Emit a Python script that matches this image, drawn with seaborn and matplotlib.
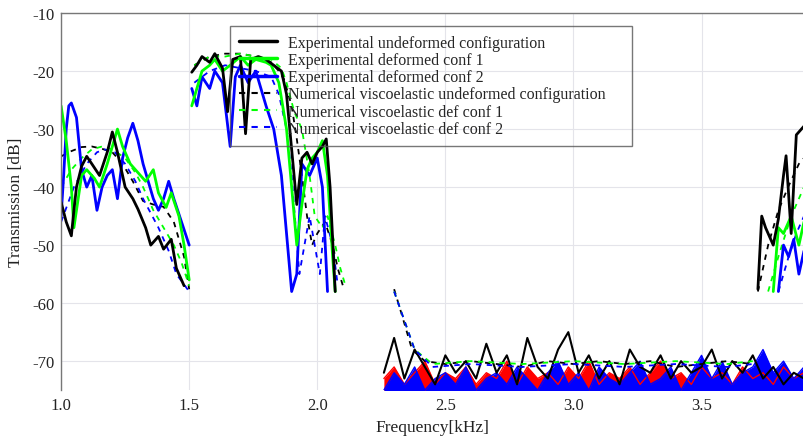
import numpy as np
import pandas as pd
import matplotlib
matplotlib.use("Agg")
import matplotlib.pyplot as plt
from matplotlib.lines import Line2D
import seaborn as sns

# ---------------- data (NaN = gap) ----------------
nan = np.nan

exp_undef_f = [1.00, 1.02, 1.04, 1.05, 1.06, 1.08, 1.10, 1.12, 1.15, 1.18, 1.20, 1.22, 1.25, 1.28,
               1.30, 1.33, 1.35, 1.38, 1.40, 1.43, 1.45, 1.48, 1.49,
               1.51, 1.53, 1.55, 1.58, 1.60, 1.63, 1.65, 1.67, 1.70, 1.72, 1.74, 1.77, 1.80, 1.83,
               1.86, 1.88, 1.90, 1.92, 1.94, 1.96, 1.98, 2.00, 2.02, 2.035, 2.05, 2.07, 2.08,
               3.72, 3.735, 3.75, 3.78, 3.80, 3.82, 3.83, 3.85, 3.87, 3.90]
exp_undef_v = [-42.6, -46.0, -48.4, -44.0, -40.0, -36.4, -34.7, -36.0, -38.0, -34.0, -30.5, -34.0, -40.0, -42.0,
               -43.8, -47.0, -50.0, -48.5, -50.7, -49.0, -54.0, -57.0, nan,
               -20.2, -19.0, -17.5, -18.5, -17.0, -19.5, -27.0, -18.0, -17.5, -30.8, -18.0, -17.5, -18.0, -19.0,
               -20.0, -24.0, -33.5, -43.0, -35.0, -34.0, -36.0, -34.0, -33.0, -31.7, -40.0, -58.0, nan,
               -57.6, -45.0, -47.0, -50.0, -45.5, -38.0, -34.6, -48.0, -31.0, -29.5]

exp_def1_f = [1.00, 1.02, 1.04, 1.05, 1.06, 1.08, 1.10, 1.13, 1.15, 1.18, 1.20, 1.22, 1.24, 1.27,
              1.30, 1.33, 1.36, 1.38, 1.41, 1.43, 1.46, 1.48, 1.50, 1.505,
              1.51, 1.53, 1.55, 1.58, 1.60, 1.63, 1.66, 1.70, 1.73, 1.76, 1.80, 1.82, 1.85, 1.88,
              1.90, 1.92, 1.94, 1.96, 1.98, 2.00, 2.02, 2.04, 2.06, 2.07, 2.08,
              3.78, 3.80, 3.82, 3.85, 3.88, 3.90]
exp_def1_v = [-26.0, -32.0, -40.0, -47.0, -44.0, -38.0, -37.0, -38.5, -40.0, -36.0, -33.0, -30.0, -33.0, -36.0,
              -37.5, -39.0, -37.0, -41.0, -43.5, -41.0, -45.0, -50.0, -56.0, nan,
              -26.0, -23.0, -20.0, -19.0, -18.0, -20.0, -19.0, -17.5, -19.0, -18.0, -18.5, -19.0, -22.0, -30.0,
              -40.0, -50.0, -43.0, -37.0, -35.0, -34.0, -32.0, -38.0, -52.0, -58.0, nan,
              -58.0, -47.0, -48.0, -45.0, -50.0, -46.0]

exp_def2_f = [1.00, 1.01, 1.02, 1.03, 1.04, 1.06, 1.08, 1.10, 1.12, 1.14, 1.16, 1.18, 1.20, 1.22,
              1.24, 1.26, 1.28, 1.30, 1.32, 1.34, 1.36, 1.38, 1.40, 1.42, 1.44, 1.47, 1.50, 1.505,
              1.51, 1.53, 1.55, 1.58, 1.60, 1.63, 1.66, 1.68, 1.70, 1.73, 1.76, 1.80, 1.83, 1.86,
              1.88, 1.90, 1.92, 1.94, 1.97, 2.00, 2.02, 2.04, 2.05,
              3.80, 3.82, 3.84, 3.86, 3.88, 3.90]
exp_def2_v = [-45.0, -38.0, -30.0, -26.0, -25.5, -28.0, -37.0, -40.0, -38.0, -44.0, -40.0, -38.0, -37.0, -42.0,
              -35.0, -31.5, -29.0, -32.0, -36.0, -39.0, -42.0, -44.0, -42.0, -39.0, -42.0, -46.0, -50.0, nan,
              -23.0, -26.0, -21.0, -23.0, -20.0, -22.0, -33.0, -21.0, -19.0, -22.0, -20.0, -26.0, -30.0, -38.0,
              -48.0, -58.0, -55.0, -36.0, -38.0, -35.0, -40.0, -58.0, nan,
              -58.0, -50.0, -52.0, -49.0, -55.0, -51.0]

num_undef_f = [1.00, 1.04, 1.08, 1.12, 1.16, 1.20, 1.24, 1.28, 1.32, 1.36, 1.40, 1.44, 1.48, 1.50, 1.505,
               1.52, 1.58, 1.64, 1.70, 1.76, 1.82, 1.85, 1.87, 1.90, 1.92, 1.94, 1.96, 1.98, 2.00,
               2.03, 2.06, 2.08, 2.10, 2.11,
               2.30, 2.33, 2.37, 2.42, 2.50, 2.60, 2.70, 2.80, 2.90, 3.00, 3.10, 3.20, 3.30, 3.40, 3.50,
               3.60, 3.70, 3.71,
               3.72, 3.76, 3.80, 3.84, 3.88, 3.90]
num_undef_v = [-34.7, -33.8, -33.1, -33.0, -33.4, -34.0, -36.0, -39.0, -42.4, -43.0, -43.4, -46.0, -52.0, -57.6, nan,
               -19.0, -17.5, -17.0, -17.0, -17.5, -18.5, -20.0, -21.4, -26.0, -31.7, -38.0, -45.0, -50.0, -48.0,
               -46.0, -50.0, -54.0, -57.0, nan,
               -57.6, -62.0, -68.0, -70.0, -70.5, -70.0, -70.5, -71.0, -70.0, -70.5, -70.0, -70.5, -70.0, -71.0, -70.5,
               -70.0, -70.5, nan,
               -58.0, -50.0, -44.0, -39.8, -36.0, -35.0]

num_def1_f = [1.00, 1.04, 1.08, 1.12, 1.16, 1.20, 1.25, 1.29, 1.32, 1.36, 1.40, 1.44, 1.47, 1.50, 1.505,
              1.52, 1.58, 1.64, 1.70, 1.76, 1.82, 1.86, 1.88, 1.91, 1.94, 1.97, 1.99, 2.02, 2.04,
              2.07, 2.09, 2.11, 2.12,
              2.30, 2.34, 2.38, 2.45, 2.60, 2.80, 3.00, 3.20, 3.40, 3.60, 3.70, 3.71,
              3.76, 3.80, 3.85, 3.90]
num_def1_v = [-40.0, -37.0, -35.0, -33.5, -33.0, -33.5, -35.0, -37.5, -40.0, -44.0, -47.0, -50.0, -53.0, -57.0, nan,
              -19.0, -17.5, -17.5, -17.0, -17.5, -18.0, -19.5, -22.0, -27.0, -30.0, -38.0, -45.0, -47.0, -45.0,
              -50.0, -54.0, -57.0, nan,
              -58.0, -63.0, -68.0, -70.5, -70.0, -70.5, -70.0, -70.5, -70.0, -70.5, -70.0, nan,
              -58.0, -52.0, -45.0, -40.0]

num_def2_f = [1.00, 1.05, 1.10, 1.14, 1.17, 1.21, 1.25, 1.29, 1.32, 1.35, 1.38, 1.42, 1.45, 1.50, 1.505,
              1.52, 1.58, 1.64, 1.70, 1.76, 1.82, 1.85, 1.88, 1.90, 1.93, 1.95, 1.97, 1.99, 2.01,
              2.03, 2.06, 2.08, 2.09,
              2.30, 2.34, 2.38, 2.45, 2.60, 2.80, 3.00, 3.20, 3.40, 3.60, 3.70, 3.71,
              3.80, 3.84, 3.87, 3.90]
num_def2_v = [-46.0, -40.0, -36.0, -34.0, -33.5, -34.0, -36.0, -39.0, -42.0, -44.5, -47.0, -51.0, -55.0, -58.0, nan,
              -22.0, -20.0, -19.0, -19.5, -20.0, -21.0, -24.0, -30.0, -38.0, -55.0, -50.0, -45.0, -50.0, -55.0,
              -45.0, -50.0, -57.0, nan,
              -58.0, -63.0, -68.0, -71.0, -70.5, -71.0, -70.5, -71.0, -70.5, -71.0, -70.5, nan,
              -58.0, -52.0, -48.0, -45.0]

# noise floor in the upper stop band
noise_f = [2.26, 2.30, 2.34, 2.38, 2.42, 2.46, 2.50, 2.54, 2.58, 2.62, 2.66, 2.70, 2.74, 2.78,
           2.82, 2.86, 2.90, 2.94, 2.98, 3.02, 3.06, 3.10, 3.14, 3.18, 3.22, 3.26, 3.30, 3.34,
           3.38, 3.42, 3.46, 3.50, 3.54, 3.58, 3.62, 3.66, 3.70, 3.74, 3.78, 3.82, 3.86, 3.90]
noise_black = [-72, -66, -73, -68, -71, -74, -69, -72, -70, -73, -67, -72, -69, -74,
               -66, -71, -73, -68, -65, -72, -69, -73, -70, -74, -68, -71, -72, -69,
               -73, -70, -72, -71, -68, -73, -70, -72, -69, -73, -71, -74, -72, -73]
noise_blue = [-75, -72, -74, -71, -75, -73, -72, -74, -71, -75, -73, -72, -74, -71,
              -73, -75, -72, -70, -74, -72, -75, -71, -73, -74, -72, -70, -74, -73,
              -71, -75, -72, -69, -73, -70, -74, -72, -71, -68, -72, -70, -73, -71]
noise_red = [-73, -71, -74, -72, -70, -74, -72, -73, -71, -74, -72, -73, -70, -74,
             -71, -73, -72, -74, -71, -73, -70, -74, -72, -73, -71, -74, -72, -70,
             -73, -72, -74, -71, -73, -72, -74, -71, -73, -72, -74, -71, -73, -72]

legend_labels = ["Experimental undeformed configuration",
                 "Experimental deformed conf 1",
                 "Experimental deformed conf 2",
                 "Numerical viscoelastic undeformed configuration",
                 "Numerical viscoelastic def conf 1",
                 "Numerical viscoelastic def conf 2"]


def draw(ax, f, v, color, ls, lw):
    df = pd.DataFrame({"f": f, "v": v})
    # split on NaN so each band is its own line
    grp = df["v"].isna().cumsum()
    for _, seg in df[df["v"].notna()].groupby(grp[df["v"].notna()]):
        sns.lineplot(data=seg, x="f", y="v", color=color, linestyle=ls, lw=lw,
                     estimator=None, sort=False, ax=ax)


sns.set_theme(style="whitegrid")
plt.rcParams["font.family"] = ["Liberation Serif", "DejaVu Serif"]
plt.rcParams["axes.unicode_minus"] = False

fig = plt.figure(figsize=(8.04, 4.39), dpi=100)
ax = fig.add_axes([0.076, 0.109, 0.924, 0.859])

# noise floor
ax.fill_between(noise_f, noise_red, -80, color="#ff0000", lw=0)
ax.fill_between(noise_f, noise_blue, -80, color="#0000ff", lw=0)
draw(ax, noise_f, noise_red, "#ff0000", "-", 1.0)
draw(ax, noise_f, noise_blue, "#0000ff", "-", 1.0)
draw(ax, noise_f, noise_black, "black", "-", 1.5)

# numerical (dashed)
draw(ax, num_undef_f, num_undef_v, "black", (0, (3, 3)), 1.3)
draw(ax, num_def1_f, num_def1_v, "#00ff00", (0, (3, 3)), 1.3)
draw(ax, num_def2_f, num_def2_v, "#0000ff", (0, (3, 3)), 1.3)

# experimental (solid)
draw(ax, exp_def2_f, exp_def2_v, "#0000ff", "-", 2.0)
draw(ax, exp_def1_f, exp_def1_v, "#00ff00", "-", 2.0)
draw(ax, exp_undef_f, exp_undef_v, "black", "-", 2.0)

ax.set_xlim(1.0, 3.9)
ax.set_ylim(-75, -10)
ax.set_xticks([1.0, 1.5, 2.0, 2.5, 3.0, 3.5])
ax.set_xticklabels(["1.0", "1.5", "2.0", "2.5", "3.0", "3.5"])
ax.set_yticks([-10, -20, -30, -40, -50, -60, -70])
ax.tick_params(labelsize=12, colors="#222222", length=0, pad=5)
ax.set_xlabel("Frequency[kHz]", fontsize=12.5, color="#222222", labelpad=4)
ax.set_ylabel("Transmission [dB]", fontsize=12.5, color="#222222", labelpad=6)
ax.grid(True, color="#e4e4ea", lw=0.8)
for side in ["top", "left"]:
    ax.spines[side].set_color("#777777")
    ax.spines[side].set_linewidth(1.0)
for side in ["right", "bottom"]:
    ax.spines[side].set_visible(False)

handles = [Line2D([], [], color="black", lw=2.5),
           Line2D([], [], color="#00ff00", lw=2.5),
           Line2D([], [], color="#0000ff", lw=2.5),
           Line2D([], [], color="black", lw=1.5, ls=(0, (3, 3))),
           Line2D([], [], color="#00ff00", lw=1.5, ls=(0, (3, 3))),
           Line2D([], [], color="#0000ff", lw=1.5, ls=(0, (3, 3)))]
leg = ax.legend(handles, legend_labels, loc="upper left",
                bbox_to_anchor=(0.227, 0.966 - 0.3, 0.542, 0.3), mode="expand",
                borderaxespad=0, fontsize=11.5, frameon=True, fancybox=False,
                handlelength=2.4, handletextpad=0.7,
                labelspacing=0.08, borderpad=0.55)
frame = leg.get_frame()
frame.set_facecolor("none")
frame.set_edgecolor("#555555")
frame.set_linewidth(1.0)

fig.savefig("out.png", dpi=100)
